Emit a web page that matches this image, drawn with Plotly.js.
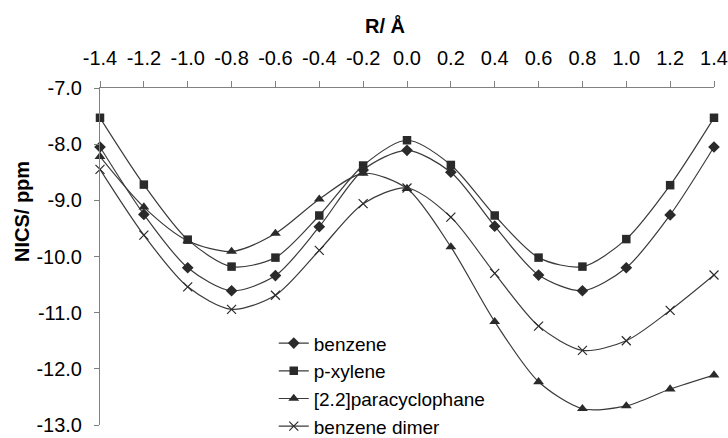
<!DOCTYPE html>
<html>
<head>
<meta charset="utf-8">
<script src="https://cdn.plot.ly/plotly-3.0.1.min.js"></script>
<style>html,body{margin:0;padding:0;background:#fff;}#chart{width:728px;height:438px;}</style>
</head>
<body>
<div id="chart"></div>
<script>
const R = [-1.4, -1.2, -1.0, -0.8, -0.6, -0.4, -0.2, 0.0, 0.2, 0.4, 0.6, 0.8, 1.0, 1.2, 1.4];
const benzene = [-8.05, -9.25, -10.20, -10.61, -10.34, -9.47, -8.46, -8.11, -8.50, -9.46, -10.33, -10.61, -10.20, -9.26, -8.05];
const pXylene = [-7.53, -8.72, -9.70, -10.18, -10.02, -9.27, -8.38, -7.93, -8.37, -9.27, -10.02, -10.18, -9.69, -8.73, -7.53];
const paracyclophane = [-8.22, -9.12, -9.72, -9.91, -9.59, -8.98, -8.52, -8.79, -9.83, -11.16, -12.23, -12.71, -12.66, -12.36, -12.11];
const benzeneDimer = [-8.45, -9.62, -10.54, -10.94, -10.69, -9.89, -9.06, -8.78, -9.30, -10.30, -11.24, -11.67, -11.50, -10.96, -10.33];
const seriesNames = ['benzene', 'p-xylene', '[2.2]paracyclophane', 'benzene dimer'];
const xTickVals = [-1.4, -1.2, -1.0, -0.8, -0.6, -0.4, -0.2, 0.0, 0.2, 0.4, 0.6, 0.8, 1.0, 1.2, 1.4];
const xTickText = ['-1.4', '-1.2', '-1.0', '-0.8', '-0.6', '-0.4', '-0.2', '0.0', '0.2', '0.4', '0.6', '0.8', '1.0', '1.2', '1.4'];
const yTickVals = [-7, -8, -9, -10, -11, -12, -13];
const yTickText = ['-7.0', '-8.0', '-9.0', '-10.0', '-11.0', '-12.0', '-13.0'];

const font = 'Liberation Sans, Arial, sans-serif';
const lineColor = '#3a3a3a';
const markerColor = '#2a2a2a';
const symbols = ['diamond', 'square', 'triangle-up', 'x-thin-open'];
const sizes = [9, 8.5, 9.5, 9];
const data = [benzene, pXylene, paracyclophane, benzeneDimer].map((ys, i) => ({
  x: R, y: ys, name: seriesNames[i], type: 'scatter', mode: 'lines+markers',
  line: {color: lineColor, width: 1.2, shape: 'spline', smoothing: 0.8},
  marker: {symbol: symbols[i], size: sizes[i], color: markerColor,
           line: {color: markerColor, width: i === 3 ? 1.2 : 0}},
  cliponaxis: false
}));

const layout = {
  width: 728, height: 438,
  margin: {l: 100, r: 14, t: 88, b: 13, autoexpand: false},
  paper_bgcolor: '#fff', plot_bgcolor: '#fff',
  font: {family: font, size: 20, color: '#000'},
  showlegend: true,
  legend: {x: 0.283, y: 0.299, xanchor: 'left', yanchor: 'top', bgcolor: 'rgba(0,0,0,0)',
           font: {family: font, size: 19, color: '#000'}, tracegroupgap: 0, itemwidth: 30},
  xaxis: {range: [-1.4, 1.4], side: 'top', tickvals: xTickVals, ticktext: xTickText,
          ticks: 'outside', ticklen: 6, tickcolor: '#808080', showline: true, linecolor: '#808080',
          linewidth: 1, showgrid: false, zeroline: false, ticklabelstandoff: 8,
          tickfont: {family: font, size: 20, color: '#000'}},
  yaxis: {range: [-13, -7], tickvals: yTickVals, ticktext: yTickText,
          ticks: 'outside', ticklen: 5, tickcolor: '#808080', showline: true, linecolor: '#808080',
          linewidth: 1, showgrid: false, zeroline: false, ticklabelstandoff: 8,
          tickfont: {family: font, size: 20, color: '#000'}},
  annotations: [
    {text: '<b>R/ Å</b>', xref: 'paper', yref: 'paper', x: (385 - 100) / 614, y: 1 + (88 - 25) / 337,
     xanchor: 'center', yanchor: 'middle', showarrow: false, font: {family: font, size: 20, color: '#000'}},
    {text: '<b>NICS/ ppm</b>', xref: 'paper', yref: 'paper', x: (22 - 100) / 614, y: (425 - 212) / 337,
     xanchor: 'center', yanchor: 'middle', textangle: -90, showarrow: false, font: {family: font, size: 20, color: '#000'}}
  ]
};
Plotly.newPlot('chart', data, layout, {displayModeBar: false, staticPlot: true});
</script>
</body>
</html>
